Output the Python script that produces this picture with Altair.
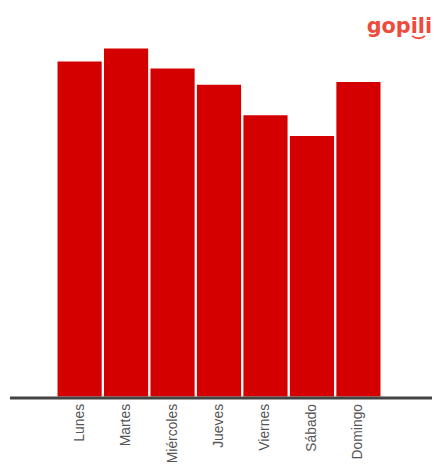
import altair as alt
import pandas as pd

days = ["Lunes", "Martes", "Miércoles", "Jueves", "Viernes", "Sábado", "Domingo"]
values = [86.7, 90.1, 84.9, 80.7, 72.8, 67.4, 81.4]
logo_text = ["gopili"]

df = pd.DataFrame({"dia": days, "valor": values})

bars = alt.Chart(df).mark_bar(color="#d40000").encode(
    x=alt.X(
        "dia:N",
        sort=days,
        scale=alt.Scale(range=[48, 374], paddingInner=0.05, paddingOuter=0),
        axis=alt.Axis(
            title=None,
            labelAngle=-90,
            labelFontSize=14,
            labelColor="#555555",
            labelFont="Liberation Sans",
            ticks=False,
            domain=False,
            labelPadding=7,
        ),
    ),
    y=alt.Y("valor:Q", scale=alt.Scale(domain=[0, 100], nice=False), axis=None),
)

one = pd.DataFrame({"a": [0]})

baseline = alt.Chart(one).mark_rule(color="#444444", strokeWidth=3).encode(
    x=alt.value(0), x2=alt.value(426), y=alt.value(391.5)
)

logo = alt.Chart(pd.DataFrame({"t": logo_text})).mark_text(
    font="DejaVu Sans", fontWeight="bold", fontSize=21, color="#ee4b3d",
    align="left", baseline="alphabetic"
).encode(text="t:N", x=alt.value(360), y=alt.value(23.3))

smile = alt.Chart(one).mark_arc(color="#ee4b3d", innerRadius=8.7, outerRadius=10.5).encode(
    theta=alt.value(2.41), theta2=alt.value(3.87), x=alt.value(412.4), y=alt.value(18.8)
)

chart = alt.layer(bars, baseline, logo, smile).properties(
    width=426, height=390, padding=0
).configure_view(stroke=None)

chart.save("out.html", embed_options={"renderer": "svg", "actions": False})
